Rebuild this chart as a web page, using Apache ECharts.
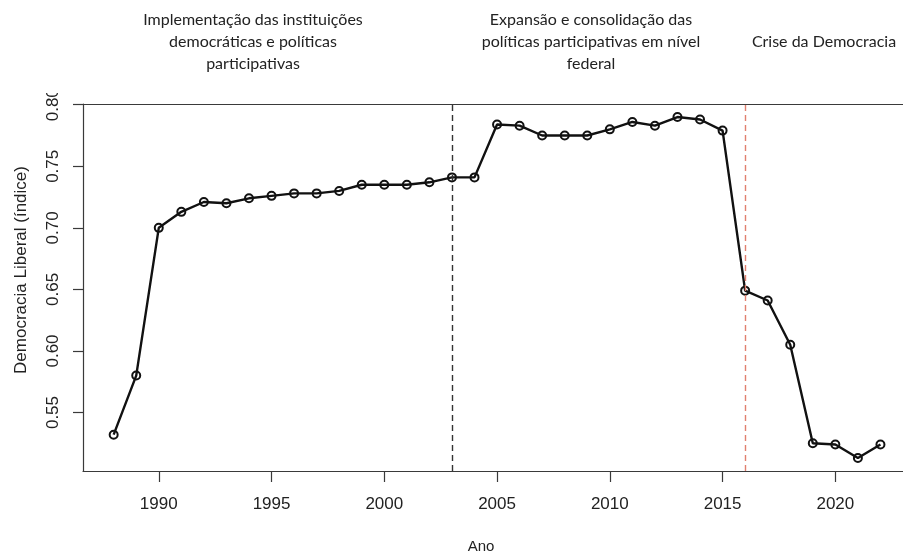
<!DOCTYPE html>
<html>
<head>
<meta charset="utf-8">
<title>Democracia Liberal</title>
<script src="https://cdn.jsdelivr.net/npm/echarts@6/dist/echarts.min.js"></script>
<style>
    html, body { margin: 0; padding: 0; background: #fff; }
    #chart { width: 903px; height: 554px; }
</style>
</head>
<body>
<div id="chart"></div>
<script>
'use strict';

// 数据
const years = [1988, 1989, 1990, 1991, 1992, 1993, 1994, 1995, 1996, 1997,
    1998, 1999, 2000, 2001, 2002, 2003, 2004, 2005, 2006, 2007,
    2008, 2009, 2010, 2011, 2012, 2013, 2014, 2015, 2016, 2017,
    2018, 2019, 2020, 2021, 2022];
const indice = [0.532, 0.580, 0.700, 0.713, 0.721, 0.720, 0.724, 0.726, 0.728, 0.728,
    0.730, 0.735, 0.735, 0.735, 0.737, 0.741, 0.741, 0.784, 0.783, 0.775,
    0.775, 0.775, 0.780, 0.786, 0.783, 0.790, 0.788, 0.779, 0.649, 0.641,
    0.605, 0.525, 0.524, 0.513, 0.524];
const xTicks = [1990, 1995, 2000, 2005, 2010, 2015, 2020];
const yTicks = [0.55, 0.60, 0.65, 0.70, 0.75, 0.80];
const marcos = [2003, 2016];   // linhas tracejadas
const periodos = [
    'Implementação das instituições\ndemocráticas e políticas\nparticipativas',
    'Expansão e consolidação das\npolíticas participativas em nível\nfederal',
    'Crise da Democracia'
];

let initChart = (function() {
    let myChart = echarts.init(document.getElementById('chart'));

    let axisColor = '#3a3a3a',
        labelFont = '"Liberation Sans", Arial, sans-serif',
        headFont = 'Lato, "Open Sans", sans-serif';

    let xMin = 1986.64,
        xMax = 2023.0;   // a caixa do gráfico é cortada à direita

    let seriesData = years.map(function(y, i) {
        return [y, indice[i]];
    });

    let option = {
        backgroundColor: '#fff',
        animation: false,
        grid: {
            left: 83,
            right: 0,
            top: 104,
            bottom: 83,
            show: false
        },
        xAxis: [{
            type: 'value',
            min: xMin,
            max: xMax,
            splitLine: { show: false },
            axisLine: { show: true, onZero: false, lineStyle: { color: axisColor, width: 1.2 } },
            axisTick: {
                show: true,
                length: 11,
                customValues: xTicks,
                lineStyle: { color: axisColor, width: 1.2 }
            },
            axisLabel: {
                customValues: xTicks,
                margin: 25,
                fontSize: 17,
                fontFamily: labelFont,
                color: '#222',
                formatter: function(v) { return String(v); }
            }
        }, {
            // linha de cima da caixa
            type: 'value',
            position: 'top',
            min: xMin,
            max: xMax,
            splitLine: { show: false },
            axisLine: { show: true, onZero: false, lineStyle: { color: axisColor, width: 1.2 } },
            axisTick: { show: false },
            axisLabel: { show: false }
        }],
        yAxis: {
            type: 'value',
            min: 0.5025,
            max: 0.8006,
            splitLine: { show: false },
            axisLine: { show: true, lineStyle: { color: axisColor, width: 1.2 } },
            axisTick: {
                show: true,
                length: 10,
                customValues: yTicks,
                lineStyle: { color: axisColor, width: 1.2 }
            },
            axisLabel: {
                customValues: yTicks,
                rotate: 90,
                margin: 21,
                fontSize: 17,
                fontFamily: labelFont,
                color: '#222',
                formatter: function(v) { return v.toFixed(2); }
            }
        },
        series: [{
            type: 'line',
            data: seriesData,
            symbol: 'circle',
            symbolSize: 8,
            showSymbol: true,
            lineStyle: { color: '#111', width: 2.4 },
            itemStyle: { color: 'transparent', borderColor: '#111', borderWidth: 2 },
            markLine: {
                silent: true,
                symbol: ['none', 'none'],
                label: { show: false },
                data: [{
                    xAxis: marcos[0],
                    lineStyle: { color: '#333', type: [6, 4], width: 1.4 }
                }, {
                    xAxis: marcos[1],
                    lineStyle: { color: '#e0806f', type: [6, 4], width: 1.4 }
                }]
            }
        }],
        graphic: [{
            type: 'text',
            x: 253,
            y: 9,
            style: {
                text: periodos[0],
                align: 'center',
                verticalAlign: 'top',
                lineHeight: 22,
                font: '16px ' + headFont,
                fill: '#222'
            }
        }, {
            type: 'text',
            x: 591,
            y: 9,
            style: {
                text: periodos[1],
                align: 'center',
                verticalAlign: 'top',
                lineHeight: 22,
                font: '16px ' + headFont,
                fill: '#222'
            }
        }, {
            type: 'text',
            x: 824,
            y: 31,
            style: {
                text: periodos[2],
                align: 'center',
                verticalAlign: 'top',
                lineHeight: 22,
                font: '16px ' + headFont,
                fill: '#222'
            }
        }, {
            // título do eixo y
            type: 'text',
            x: 21,
            y: 270,
            rotation: Math.PI / 2,
            style: {
                text: 'Democracia Liberal (índice)',
                align: 'center',
                verticalAlign: 'middle',
                font: '17px ' + labelFont,
                fill: '#222'
            }
        }, {
            // título do eixo x
            type: 'text',
            x: 481,
            y: 547,
            style: {
                text: 'Ano',
                align: 'center',
                verticalAlign: 'middle',
                font: '15px ' + labelFont,
                fill: '#222'
            }
        }, {
            // caixa branca que corta o "0.80" como na imagem
            type: 'rect',
            z: 100,
            shape: { x: 38, y: 78, width: 34, height: 15 },
            style: { fill: '#fff' }
        }]
    };

    myChart.setOption(option);
})();
</script>
</body>
</html>
